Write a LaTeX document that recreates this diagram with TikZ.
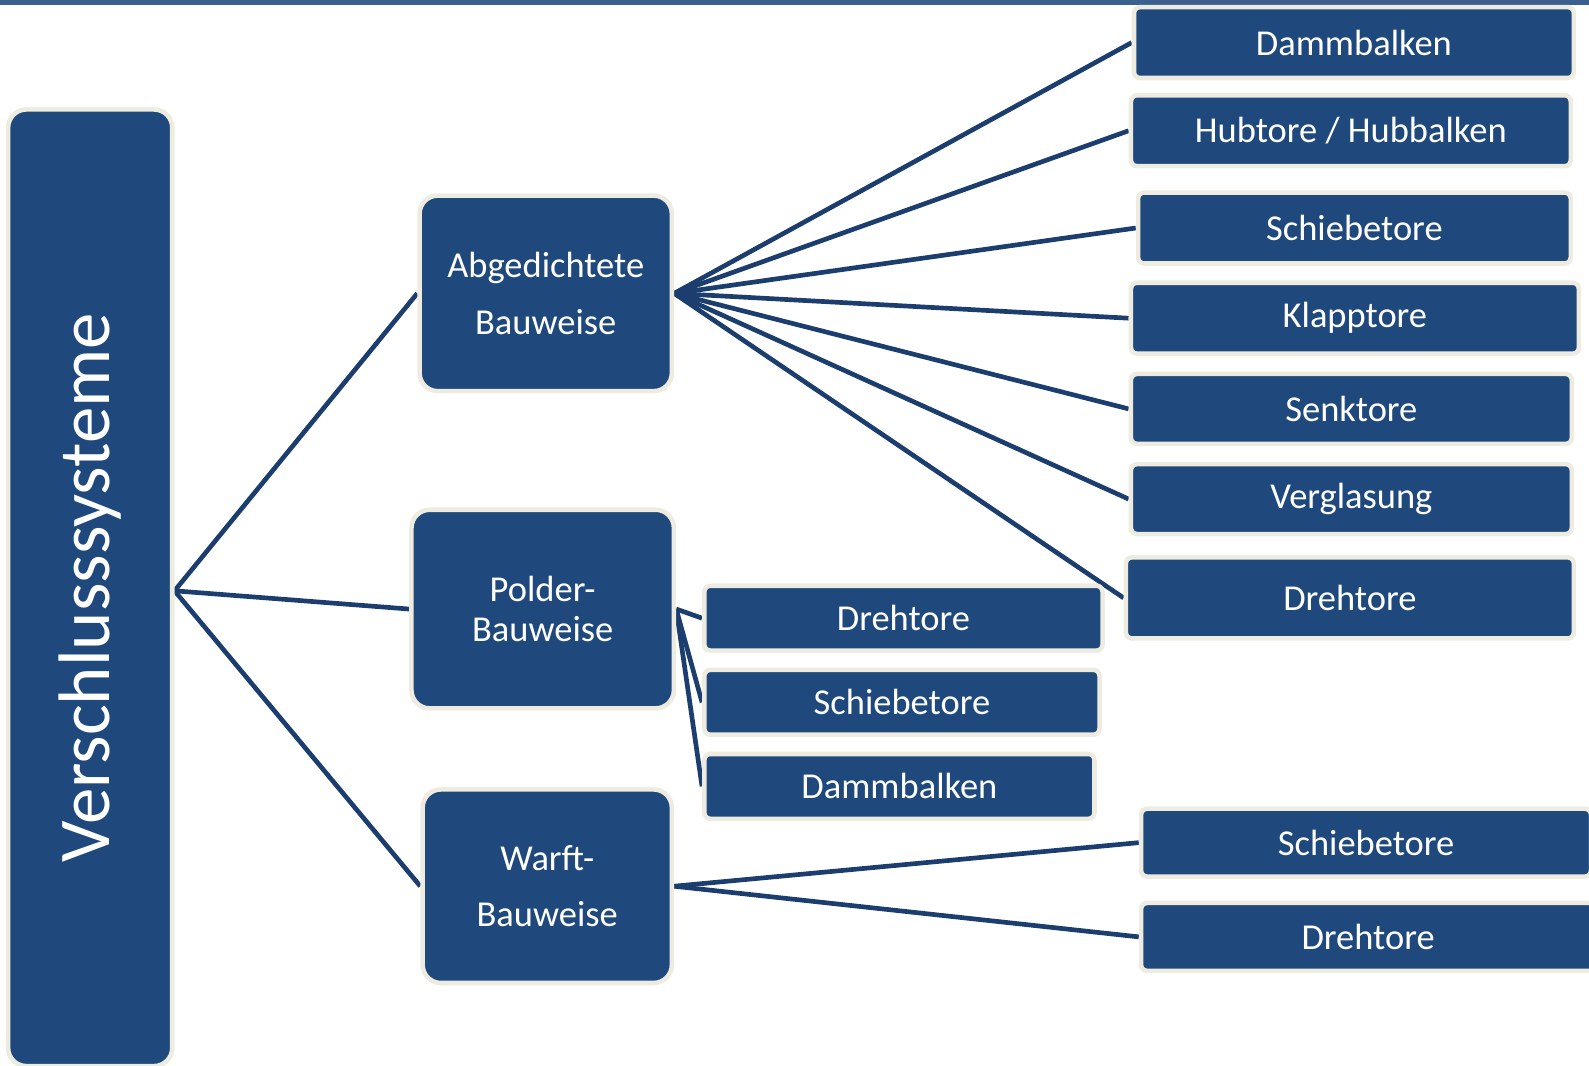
\documentclass[tikz,border=0pt]{standalone}
\usepackage{fontspec}
\setmainfont{Carlito}
\usepackage{graphicx}
\definecolor{boxblue}{HTML}{1F497D}
\definecolor{linenavy}{HTML}{1C3E6E}
\definecolor{rim}{HTML}{EEECE1}
\definecolor{topbar}{HTML}{3B5F8E}
\pgfdeclarelayer{bg}
\pgfsetlayers{bg,main}
\tikzset{
  base/.style={fill=boxblue, draw=rim, line width=4.5pt, text=white, inner sep=0pt, align=center, font=\fontsize{36}{44}\selectfont},
  leaf/.style={base, rounded corners=6pt},
  midbox/.style={base, rounded corners=18pt},
  conn/.style={draw=linenavy, line width=4.6pt},
}
\begin{document}
\begin{tikzpicture}[x=1pt, y=-1pt]
\useasboundingbox (0,0) rectangle (1568,1051);
\clip (0,0) rectangle (1568,1051);
\fill[topbar] (0,0) rectangle (1568,4.5);

% root
\node[midbox, minimum width=162pt, minimum height=944pt] (big) at (89,580)
  {\fontsize{72}{80}\selectfont\rotatebox{90}{Verschlusssysteme}};

% second level
\node[midbox, minimum width=249pt, minimum height=193pt, font=\fontsize{36}{56}\selectfont] (abg) at (538.5,289.5) {Abgedichtete\\Bauweise};
\node[midbox, minimum width=259pt, minimum height=196pt, font=\fontsize{36}{40}\selectfont] (pol) at (535.5,601) {Polder-\\Bauweise};
\node[midbox, minimum width=246pt, minimum height=191pt, font=\fontsize{36}{56}\selectfont] (war) at (540,874.5) {Warft-\\Bauweise};

% leaves of Abgedichtete Bauweise
\node[leaf, minimum width=434pt, minimum height=70pt] (r1) at (1336,42) {Dammbalken};
\node[leaf, minimum width=434pt, minimum height=70pt] (r2) at (1333,129) {Hubtore / Hubbalken};
\node[leaf, minimum width=427pt, minimum height=70pt] (r3) at (1336.5,225) {Schiebetore};
\node[leaf, minimum width=442pt, minimum height=70pt] (r4) at (1337,314) {Klapptore};
\node[leaf, minimum width=435pt, minimum height=69pt] (r5) at (1333.5,403.5) {Senktore};
\node[leaf, minimum width=435pt, minimum height=69pt] (r6) at (1333.5,492.5) {Verglasung};
\node[leaf, minimum width=442pt, minimum height=80pt] (r7) at (1332,590) {Drehtore};

% leaves of Polder-Bauweise
\node[leaf, minimum width=393pt, minimum height=64pt] (p1) at (891.5,610) {Drehtore};
\node[leaf, minimum width=390pt, minimum height=64pt] (p2) at (890,693) {Schiebetore};
\node[leaf, minimum width=385pt, minimum height=64pt] (p3) at (887.5,776) {Dammbalken};

% leaves of Warft-Bauweise
\node[leaf, minimum width=444pt, minimum height=67pt] (w1) at (1348,831.5) {Schiebetore};
\node[leaf, minimum width=448pt, minimum height=67pt] (w2) at (1350,924.5) {Drehtore};

\begin{pgfonlayer}{bg}
  \draw[conn] ([yshift=-3pt]big.east) -- (abg.west);
  \draw[conn] ([yshift=-3pt]big.east) -- (pol.west);
  \draw[conn] ([yshift=-3pt]big.east) -- (war.west);
  \foreach \n in {r1,r2,r3,r4,r5,r6,r7} \draw[conn] (abg.east) -- (\n.west);
  \foreach \n in {p1,p2,p3} \draw[conn] (pol.east) -- (\n.west);
  \foreach \n in {w1,w2} \draw[conn] (war.east) -- (\n.west);
\end{pgfonlayer}
\end{tikzpicture}
\end{document}
